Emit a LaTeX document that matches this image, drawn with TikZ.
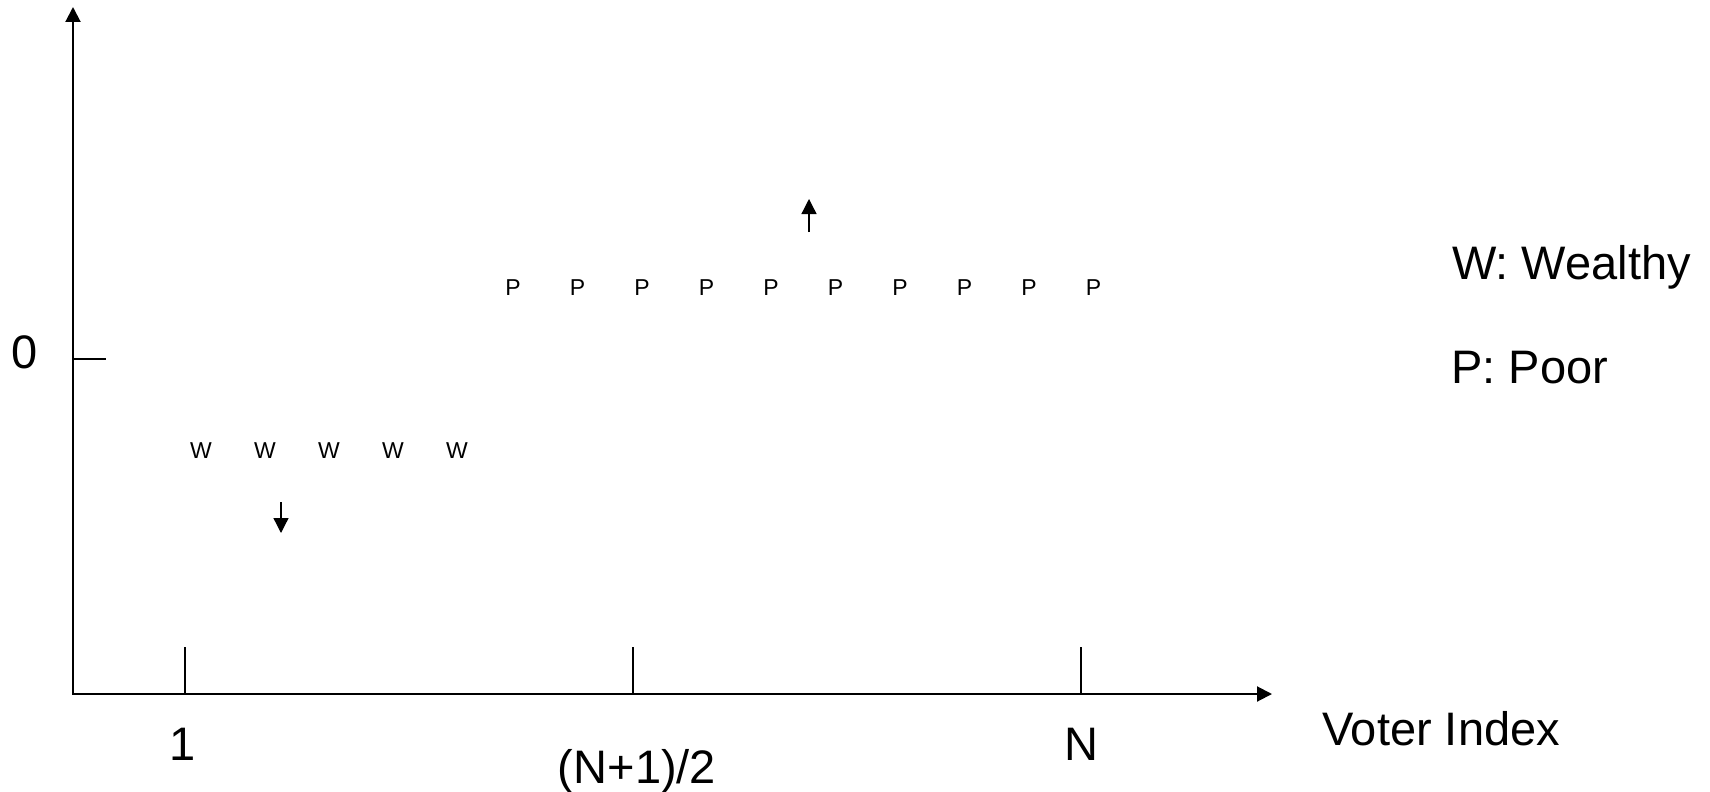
\documentclass[tikz,border=0pt]{standalone}
\usepackage{fontspec}
\setmainfont{Liberation Sans}
\usetikzlibrary{arrows.meta}
\begin{document}
\begin{tikzpicture}[x=1pt,y=-1pt,
  axis/.style={line width=2pt},
  tickline/.style={line width=1.6pt},
  big/.style={inner sep=0pt, font=\fontsize{47}{56}\selectfont},
  small/.style={inner sep=0pt, font=\fontsize{23}{28}\selectfont},
  bothheads/.style={{Triangle[length=15pt,width=15pt]}-{Triangle[length=15pt,width=15pt]}},
  move/.style={line width=1.3pt, -{Triangle[length=15pt,width=15pt]}}]
\useasboundingbox (0,0) rectangle (1710,792);
% axes
\coordinate (O) at (73,694);
\coordinate (ytip) at (73,7);
\coordinate (xtip) at (1272,694);
\draw[axis, bothheads] (ytip) -- (O) -- (xtip);
% zero tick
\coordinate (z0) at (73,359);
\coordinate (z1) at (106,359);
\draw[tickline] (z0) -- (z1);
% x ticks
\foreach \n/\x in {a/185, b/633, c/1081}{
  \coordinate (\n0) at (\x,694);
  \coordinate (\n1) at (\x,647);
  \draw[tickline] (\n0) -- (\n1);
}
% labels
\node[big, anchor=base] (zero) at (25,368) {0};
\node[big, anchor=base] (one) at (183,760) {1};
\node[big, anchor=base] (half) at (637,783) {(N+1)/2};
\node[big, anchor=base] (enn) at (1081,760) {N};
\node[big, anchor=base west] (vi) at (1322,745) {Voter Index};
\node[big, anchor=base west] (wl) at (1452,279) {W: Wealthy};
\node[big, anchor=base west] (pl) at (1451,383) {P: Poor};
% wealthy voters
\foreach \i in {0,...,4}{
  \node[small, anchor=base] (w\i) at ({201+64*\i},458) {W};
}
% poor voters
\foreach \i in {0,...,9}{
  \node[small, anchor=base] (p\i) at ({513+64.5*\i},295) {P};
}
% shift arrows
\coordinate (d0) at (281,502);
\coordinate (d1) at (281,533);
\draw[move] (d0) -- (d1);
\coordinate (u0) at (809,232);
\coordinate (u1) at (809,199);
\draw[move] (u0) -- (u1);
\end{tikzpicture}
\end{document}
